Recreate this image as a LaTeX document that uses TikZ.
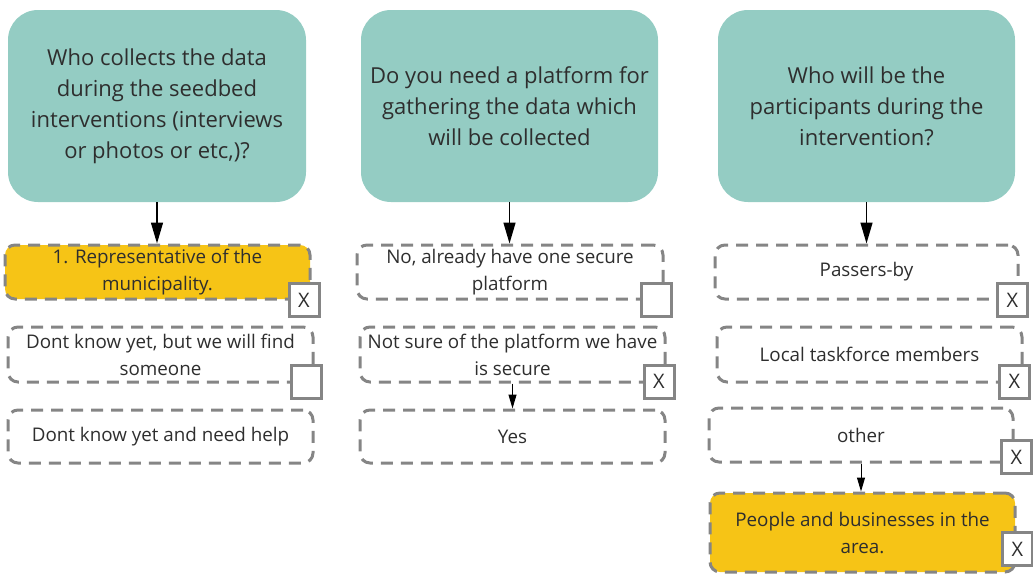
\documentclass[tikz,border=0pt]{standalone}
\usepackage{fontspec}
\setmainfont{Open Sans}
\usetikzlibrary{arrows.meta}
\definecolor{teal1}{HTML}{94CCC3}
\definecolor{yel}{HTML}{F6C416}
\definecolor{dgray}{HTML}{858585}
\definecolor{txt}{HTML}{2E2E2E}
\tikzset{
  qbox/.style={rectangle, rounded corners=30pt, fill=teal1, text=txt, align=center,
    font=\fontsize{22}{31}\selectfont, inner sep=0pt},
  optbox/.style={rectangle, rounded corners=10pt, draw=dgray, line width=3pt,
    dash pattern=on 12pt off 8pt, text=txt, align=center,
    font=\fontsize{18.8}{27}\selectfont, inner sep=0pt, minimum height=54pt},
  selbox/.style={optbox, fill=yel},
  ckbox/.style={rectangle, draw=dgray, line width=3pt, fill=white, text=txt,
    font=\fontsize{20}{24}\selectfont, inner sep=0pt, minimum width=30pt, minimum height=33pt},
  bigarrow/.style={draw=black, line width=1.4pt, -{Triangle[length=21pt,width=12pt]}},
  smallarrow/.style={draw=black, line width=1pt, -{Triangle[length=14pt,width=8pt]}}
}
\begin{document}
\begin{tikzpicture}[x=1pt,y=-1pt]
\useasboundingbox (0,0) rectangle (1033,573);
% questions
\node[qbox, minimum width=298pt, minimum height=192pt] (Q1) at (157,106)
  {Who collects the data\\during the seedbed\\interventions (interviews\\or photos or etc,)?};
\node[qbox, minimum width=297pt, minimum height=192pt] (Q2) at (509.5,106)
  {Do you need a platform for\\gathering the data which\\will be collected};
\node[qbox, minimum width=297pt, minimum height=192pt] (Q3) at (866.5,106)
  {Who will be the\\participants during the\\intervention?};
% column 1
\node[selbox, minimum width=305pt] (A1) at (157.5,272) {1. Representative of the\\municipality.};
\node[optbox, minimum width=305pt, minimum height=55pt] (A2) at (160.5,354.5) {Dont know yet, but we will find\\someone};
\node[optbox, minimum width=305pt, minimum height=53pt] (A3) at (160.5,436.5) {Dont know yet and need help};
% column 2
\node[optbox, minimum width=306pt] (B1) at (510,272) {No, already have one secure\\platform};
\node[optbox, minimum width=305pt, minimum height=55pt] (B2) at (512.5,354.5) {Not sure of the platform we have\\is secure};
\node[optbox, minimum width=305pt, minimum height=53pt] (B3) at (512.5,436.5) {Yes};
% column 3
\node[optbox, minimum width=303pt] (C1) at (866.5,272) {Passers-by};
\node[optbox, minimum width=305pt, minimum height=55pt] (C2) at (869.5,354.5) {Local taskforce members};
\node[optbox, minimum width=304pt] (C3) at (861,435) {other};
\node[selbox, minimum width=305pt, minimum height=79pt] (C4) at (862.5,532.5) {People and businesses in the\\area.};
% checkboxes
\node[ckbox] (kA1) at (304,300) {X};
\node[ckbox] (kA2) at (306.5,381.5) {};
\node[ckbox] (kB1) at (656,300) {};
\node[ckbox] (kB2) at (659,381.5) {X};
\node[ckbox] (kC1) at (1012.5,300) {X};
\node[ckbox] (kC2) at (1014.5,381.5) {X};
\node[ckbox] (kC3) at (1016.5,457) {X};
\node[ckbox] (kC4) at (1017.5,549) {X};
% arrows
\draw[bigarrow] (Q1.south) -- (Q1.south |- A1.north);
\draw[bigarrow] (Q2.south) -- (Q2.south |- B1.north);
\draw[bigarrow] (Q3.south) -- (Q3.south |- C1.north);
\draw[smallarrow] (B2.south) -- (B2.south |- B3.north);
\draw[smallarrow] (C3.south) -- (C3.south |- C4.north);
\end{tikzpicture}
\end{document}
